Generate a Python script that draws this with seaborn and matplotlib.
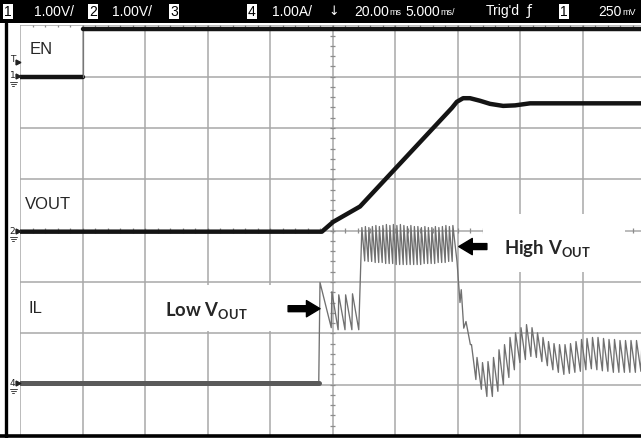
import numpy as np
import pandas as pd
import matplotlib
matplotlib.use("Agg")
import matplotlib.pyplot as plt
import seaborn as sns
from matplotlib import font_manager
from matplotlib.patches import Rectangle
from matplotlib.lines import Line2D

# ---------------- data (screen divisions: time 0..10 div, signal 0..8 div) ----------------
en_t = [0.00, 1.00, 1.00, 10.00]
en_v = [6.99, 6.99, 7.93, 7.93]

vout_t = [0.00, 4.83, 5.01, 5.44, 6.91, 6.99, 7.09, 7.20, 7.36, 7.52, 7.73, 7.92, 8.16, 10.00]
vout_v = [3.98, 3.98, 4.17, 4.47, 6.39, 6.51, 6.58, 6.58, 6.53, 6.47, 6.43, 6.44, 6.48, 6.48]

# inductor current: idle baseline + low-Vout burst
il_low_t = [0.00, 4.78, 4.80, 4.98, 4.99, 5.09, 5.10, 5.20, 5.21, 5.31, 5.32, 5.42]
il_low_v = [1.04, 1.04, 2.99, 2.11, 2.81, 2.07, 2.75, 2.07, 2.75, 2.07, 2.77, 2.07]

# high-Vout ripple (peak, valley pairs)
il_high_t = [5.470, 5.515, 5.526, 5.571, 5.582, 5.627, 5.638, 5.683, 5.694, 5.739,
             5.750, 5.795, 5.806, 5.851, 5.862, 5.907, 5.918, 5.963, 5.974, 6.019,
             6.030, 6.075, 6.086, 6.131, 6.142, 6.187, 6.198, 6.243, 6.254, 6.299,
             6.310, 6.355, 6.366, 6.411, 6.422, 6.467, 6.478, 6.523, 6.534, 6.579,
             6.590, 6.635, 6.646, 6.691, 6.702, 6.747, 6.758, 6.803, 6.814, 6.859,
             6.870, 6.915, 6.926, 6.992]
il_high_v = [4.06, 3.41, 4.08, 3.40, 4.06, 3.40, 4.08, 3.38, 4.10, 3.38,
             4.08, 3.38, 4.10, 3.36, 4.12, 3.36, 4.10, 3.36, 4.12, 3.34,
             4.10, 3.34, 4.12, 3.34, 4.10, 3.34, 4.08, 3.34, 4.10, 3.34,
             4.08, 3.34, 4.08, 3.34, 4.06, 3.36, 4.08, 3.36, 4.06, 3.36,
             4.06, 3.36, 4.08, 3.38, 4.06, 3.38, 4.08, 3.38, 4.10, 3.40,
             4.08, 3.40, 4.10, 3.40]

# load step and settling ripple
il_after_t = [7.04, 7.06, 7.10,
              7.136, 7.206, 7.224, 7.294, 7.312, 7.382, 7.400, 7.470, 7.488, 7.558,
              7.576, 7.646, 7.664, 7.734, 7.752, 7.822, 7.840, 7.910, 7.928, 7.998,
              8.016, 8.086, 8.104, 8.174, 8.192, 8.262, 8.280, 8.350, 8.368, 8.438,
              8.456, 8.526, 8.544, 8.614, 8.632, 8.702, 8.720, 8.790, 8.808, 8.878,
              8.896, 8.966, 8.984, 9.054, 9.072, 9.142, 9.160, 9.230, 9.248, 9.318,
              9.336, 9.406, 9.424, 9.494, 9.512, 9.582, 9.600, 9.670, 9.688, 9.758,
              9.776, 9.846, 9.864, 9.934, 9.952, 10.02]
il_after_v = [2.60, 2.85, 2.10,
              2.23, 1.78, 1.78, 1.10, 1.53, 0.91, 1.43, 0.77, 1.45, 0.77,
              1.53, 0.87, 1.68, 1.00, 1.78, 1.14, 1.92, 1.29, 2.01, 1.43,
              2.11, 1.49, 2.17, 1.55, 2.11, 1.53, 2.01, 1.45, 1.92, 1.37,
              1.84, 1.29, 1.80, 1.24, 1.78, 1.20, 1.78, 1.22, 1.80, 1.24,
              1.84, 1.26, 1.88, 1.29, 1.90, 1.31, 1.92, 1.29, 1.92, 1.27,
              1.90, 1.26, 1.88, 1.24, 1.88, 1.24, 1.86, 1.24, 1.86, 1.24,
              1.86, 1.24, 1.86, 1.26, 1.86, 1.26]

il_t = il_low_t + il_high_t + il_after_t
il_v = il_low_v + il_high_v + il_after_v

trace_labels = ["EN", "VOUT", "IL"]
header_scales = ["1.00V/", "1.00V/", "1.00A/"]
header_time = ["20.00", "ms", "5.000", "ms/"]
header_trig = ["Trig'd", "250", "mV"]

# ---------------- style ----------------
sns.set_style("white")
names = {f.name for f in font_manager.fontManager.ttflist}
narrow = "Liberation Sans Narrow" if "Liberation Sans Narrow" in names else "Liberation Sans"
plt.rcParams["font.family"] = ["Liberation Sans", "DejaVu Sans"]
plt.rcParams["mathtext.fontset"] = "custom"
plt.rcParams["mathtext.bf"] = "Lato:bold"
plt.rcParams["mathtext.rm"] = "Lato"
plt.rcParams["mathtext.it"] = "Lato:italic"

W, H = 641, 438
fig = plt.figure(figsize=(W / 100, H / 100), dpi=100)
fig.patch.set_facecolor("white")

def fx(x):
    return x / W

def fy(y):
    return 1 - y / H

top_px, bot_px = 25.3, 436.0
ax = fig.add_axes([fx(20), fy(bot_px), 625 / W, (bot_px - top_px) / H])
ax.set_facecolor("white")
ax.set_xlim(0, 10)
ax.set_ylim(0, 8)
ax.set_xticks(range(11))
ax.set_yticks(range(9))
ax.tick_params(length=0, labelbottom=False, labelleft=False)
ax.grid(True, color="#a8a8a8", lw=1.1)
ax.set_axisbelow(True)
for s in ax.spines.values():
    s.set_visible(False)

# centre graticule minor ticks
ax.vlines(np.arange(0.2, 10, 0.2), 3.95, 4.05, color="#8c8c8c", lw=0.9, zorder=1)
ax.hlines(np.arange(0.2, 8, 0.2), 4.965, 5.035, color="#8c8c8c", lw=0.9, zorder=1)
ax.vlines(np.arange(0.2, 10, 0.2), 7.96, 8.0, color="#8c8c8c", lw=0.9, zorder=1)

# white label boxes covering the graticule
ax.add_patch(Rectangle((7.41, 3.20), 2.27, 1.13, facecolor="white", edgecolor="none", zorder=1.6))
ax.add_patch(Rectangle((2.08, 2.05), 2.16, 0.90, facecolor="white", edgecolor="none", zorder=1.6))

# traces
sns.lineplot(x=il_t, y=il_v, sort=False, estimator=None, color="#707070", lw=0.95, ax=ax, zorder=3)
sns.lineplot(x=il_t[:2], y=il_v[:2], sort=False, estimator=None, color="#5a5a5a", lw=3.6, ax=ax, zorder=3)
sns.lineplot(x=vout_t, y=vout_v, sort=False, estimator=None, color="#141414", lw=3.2, ax=ax, zorder=4)
sns.lineplot(x=en_t[:2], y=en_v[:2], sort=False, estimator=None, color="#141414", lw=3.2, ax=ax, zorder=4)
sns.lineplot(x=en_t[1:3], y=en_v[1:3], sort=False, estimator=None, color="#777777", lw=0.9, ax=ax, zorder=4)
sns.lineplot(x=en_t[2:], y=en_v[2:], sort=False, estimator=None, color="#141414", lw=3.2, ax=ax, zorder=4)

# trace names
ax.text(0.16, 7.52, trace_labels[0], fontsize=12, va="center", ha="left", zorder=5)
ax.text(0.08, 4.50, trace_labels[1], fontsize=12, va="center", ha="left", zorder=5)
ax.text(0.13, 2.48, trace_labels[2], fontsize=12, va="center", ha="left", zorder=5)

# annotations
ax.text(2.32, 2.33, r"$\mathbf{Low\ V_{OUT}}$", fontsize=13.3, ha="left", va="baseline", zorder=5)
ax.text(7.744, 3.55, r"$\mathbf{High\ V_{OUT}}$", fontsize=13.3, ha="left", va="baseline", zorder=5)
arrow_style = "simple,head_length=0.75,head_width=0.9,tail_width=0.33"
ax.annotate("", xy=(4.80, 2.48), xytext=(4.29, 2.48),
            arrowprops=dict(arrowstyle=arrow_style, color="black", shrinkA=0, shrinkB=0,
                            mutation_scale=13), zorder=5)
ax.annotate("", xy=(7.02, 3.69), xytext=(7.47, 3.69),
            arrowprops=dict(arrowstyle=arrow_style, color="black", shrinkA=0, shrinkB=0,
                            mutation_scale=13), zorder=5)

# ---------------- scope frame ----------------
fig.add_artist(Rectangle((0, fy(23)), 1, 23 / H, transform=fig.transFigure,
                         facecolor="black", edgecolor="none", zorder=10))
fig.add_artist(Line2D([fx(6), fx(6)], [0, fy(23)], color="black", lw=2.4, zorder=10))
fig.add_artist(Line2D([0, 1], [fy(435.5), fy(435.5)], color="black", lw=2.6, zorder=10))

fam = [narrow, "DejaVu Sans"]
bar_font = dict(family=fam, fontsize=10, color="white", va="center", ha="left", zorder=11)
unit_font = dict(family=fam, fontsize=6.5, color="white", va="center", ha="left", zorder=11)
box_font = dict(family=fam, fontsize=10, color="black", va="center", ha="center",
                zorder=11, bbox=dict(facecolor="white", edgecolor="none", pad=0.6))

yb = fy(11.5)
fig.text(fx(8), yb, "1", **box_font)
fig.text(fx(34), yb, header_scales[0], **bar_font)
fig.text(fx(93), yb, "2", **box_font)
fig.text(fx(112), yb, header_scales[1], **bar_font)
fig.text(fx(174), yb, "3", **box_font)
fig.text(fx(252), yb, "4", **box_font)
fig.text(fx(272), yb, header_scales[2], **bar_font)
fig.text(fx(334), yb, "↓", ha="center", family="DejaVu Sans", fontsize=9, color="white", va="center", zorder=11)
fig.text(fx(354), yb, header_time[0], **bar_font)
fig.text(fx(389), fy(12.5), header_time[1], **unit_font)
fig.text(fx(405), yb, header_time[2], **bar_font)
fig.text(fx(440), fy(12.5), header_time[3], **unit_font)
fig.text(fx(486), yb, header_trig[0], **bar_font)
fig.text(fx(529), yb, "ƒ", ha="center", family="DejaVu Sans", fontsize=10, color="white", va="center", zorder=11)
fig.text(fx(564), yb, "1", **box_font)
fig.text(fx(598), yb, header_trig[1], **bar_font)
fig.text(fx(622), fy(12.5), header_trig[2], **unit_font)

# channel markers on the left
marker_font = dict(family="DejaVu Sans", fontsize=6.5, color="#222222", va="center", ha="center", zorder=11)
for lab, ypx in [("T", 59), ("1", 76), ("2", 231), ("4", 383)]:
    fig.text(fx(12.5), fy(ypx), lab, **marker_font)
    fig.add_artist(Line2D([fx(18)], [fy(ypx + (3 if lab == "T" else 0))], marker=">", markersize=3.5,
                          color="#222222", lw=0, zorder=11))
for ypx in [76, 231, 383]:
    for k, half in enumerate([3.5, 2.5, 1.2]):
        fig.add_artist(Line2D([fx(13 - half), fx(13 + half)], [fy(ypx + 6 + 2 * k)] * 2,
                              color="#444444", lw=0.7, zorder=11))

fig.savefig("out.png", dpi=100, facecolor="white")
